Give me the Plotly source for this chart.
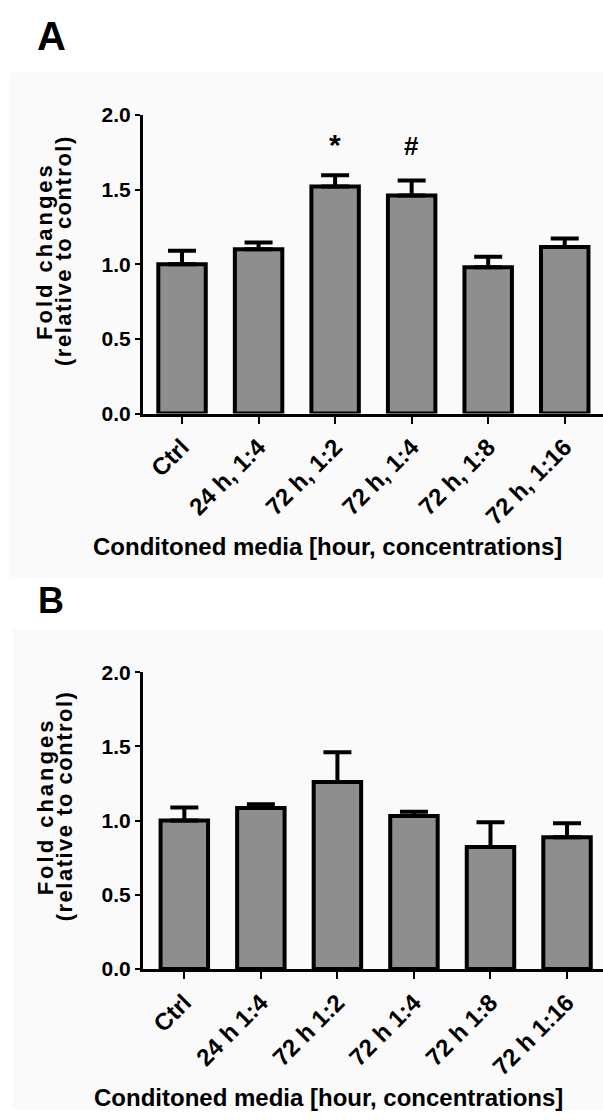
import plotly.graph_objects as go

# ---- data ----
categories_a = ["Ctrl", "24 h, 1:4", "72 h, 1:2", "72 h, 1:4", "72 h, 1:8", "72 h, 1:16"]
values_a = [1.00, 1.10, 1.52, 1.46, 0.98, 1.115]
errors_a = [0.09, 0.045, 0.075, 0.10, 0.07, 0.057]
marks_a = {"72 h, 1:2": ("*", 1.80, 30), "72 h, 1:4": ("#", 1.79, 26)}

categories_b = ["Ctrl", "24 h 1:4", "72 h 1:2", "72 h 1:4", "72 h 1:8", "72 h 1:16"]
values_b = [1.00, 1.085, 1.26, 1.03, 0.822, 0.887]
errors_b = [0.088, 0.025, 0.20, 0.03, 0.167, 0.095]

y_ticks = [0.0, 0.5, 1.0, 1.5, 2.0]
y_ticktext = ["0.0", "0.5", "1.0", "1.5", "2.0"]

FONT = "Arial, 'Liberation Sans', sans-serif"
W, H = 603, 1120
BAR_GRAY = "#8e8e8e"

fig = go.Figure()

def add_bars(cats, vals, errs, xa, ya):
    fig.add_trace(go.Bar(
        x=cats, y=vals, xaxis=xa, yaxis=ya, width=0.62,
        marker=dict(color=BAR_GRAY, line=dict(color="black", width=4)),
        error_y=dict(type="data", array=errs, arrayminus=[0] * len(errs),
                     symmetric=False, color="black", thickness=4, width=14),
        showlegend=False, hoverinfo="skip",
    ))

add_bars(categories_a, values_a, errors_a, "x", "y")
add_bars(categories_b, values_b, errors_b, "x2", "y2")

xdom = [143 / W, 1.0]
ydom_a = [1 - 410 / H, 1 - 105 / H]
ydom_b = [1 - 977 / H, 1 - 674 / H]

xaxis_common = dict(
    domain=xdom, showgrid=False, zeroline=False, showline=True, linecolor="black",
    linewidth=3, ticks="outside", ticklen=7, tickwidth=2, tickcolor="black",
    tickangle=-45, tickfont=dict(family=FONT, size=24, color="black", weight="bold"),
    fixedrange=True,
)
yaxis_common = dict(
    range=[0, 2.0], tickvals=y_ticks, ticktext=y_ticktext, showgrid=False,
    zeroline=False, showline=True, linecolor="black", linewidth=3, ticks="outside",
    ticklen=5, tickwidth=2, tickcolor="black",
    tickfont=dict(family=FONT, size=21, color="black", weight="bold"), fixedrange=True,
)

fig.update_layout(
    width=W, height=H, margin=dict(l=0, r=0, t=0, b=0),
    paper_bgcolor="white", plot_bgcolor="rgba(0,0,0,0)",
    xaxis=dict(xaxis_common, anchor="y", range=[-0.51, 5.5]),
    yaxis=dict(yaxis_common, domain=ydom_a, anchor="x"),
    xaxis2=dict(xaxis_common, anchor="y2", range=[-0.54, 5.47]),
    yaxis2=dict(yaxis_common, domain=ydom_b, anchor="x2"),
)

shapes = [
    dict(type="rect", xref="paper", yref="paper", x0=9 / W, x1=1, y0=1 - 577 / H, y1=1 - 62 / H,
         fillcolor="#fafafa", line=dict(width=0), layer="below"),
    dict(type="rect", xref="paper", yref="paper", x0=13 / W, x1=1, y0=0, y1=1 - 630 / H,
         fillcolor="#fafafa", line=dict(width=0), layer="below"),
]
fig.update_layout(shapes=shapes)

ann = []
def txt(text, x, y, size, angle=0, xanchor="center", yanchor="middle", ref=("paper", "paper")):
    ann.append(dict(text=text, x=x, y=y, xref=ref[0], yref=ref[1], showarrow=False,
                    textangle=angle, xanchor=xanchor, yanchor=yanchor,
                    font=dict(family=FONT, size=size, color="black", weight="bold")))

# panel letters
txt("A", 51 / W, 1 - 24 / H, 40)
txt("B", 51 / W, 1 - 601 / H, 36)

# y titles (two lines each)
for yc in (244, 811):
    txt('<span style="letter-spacing:3px">Fold changes</span>', 45 / W, 1 - yc / H, 22, angle=-90)
    txt('<span style="letter-spacing:1.5px">(relative to control)</span>', 64 / W, 1 - yc / H, 22, angle=-90)

# x titles
txt("Conditoned media [hour, concentrations]", 327 / W, 1 - 546 / H, 24)
txt("Conditoned media [hour, concentrations]", 328 / W, 1 - 1108 / H, 24)

# significance marks
for cat, (sym, yv, sz) in marks_a.items():
    txt(sym, cat, yv, sz, ref=("x", "y"))

fig.update_layout(annotations=ann)

fig.write_html("out.html")
